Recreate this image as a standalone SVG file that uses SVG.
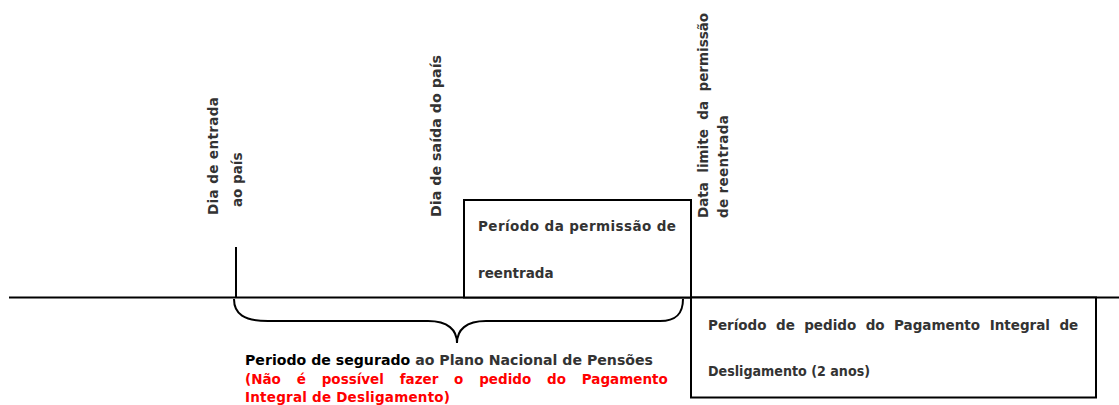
<svg xmlns="http://www.w3.org/2000/svg" width="1119" height="405" viewBox="0 0 1119 405">
<style>
  .t { font-family: "DejaVu Sans", "Liberation Sans", sans-serif; font-weight: bold; font-size: 13.5px; fill: #333333; }
  .k { fill: #000000; }
  .r { fill: #ff0000; }
  .ln { stroke: #000000; stroke-width: 2; fill: none; }
  .box { stroke: #000000; stroke-width: 2; fill: #ffffff; }
</style>
<rect width="1119" height="405" fill="#ffffff"/>
<g id="connectors">
  <line class="ln" x1="9" y1="297.5" x2="1119" y2="297.5"/>
  <line class="ln" x1="236" y1="247" x2="236" y2="297.5"/>
  <path class="ln" d="M234,299 C234,314 244,321 268,321 L428,321 C448,321 457,330 457,343 C457,330 466,321 486,321 L660,321 C676,321 683,314 683,299" stroke-width="1.8"/>
</g>
<g id="reentry-box">
  <rect class="box" x="464" y="200" width="227" height="97.5"/>
  <text class="t" x="478" y="231" textLength="198" lengthAdjust="spacing">Período da permissão de</text>
  <text class="t" x="478" y="278">reentrada</text>
</g>
<g id="payment-box">
  <rect class="box" x="691" y="297.5" width="405" height="100"/>
  <text class="t" y="330"><tspan x="708">Período</tspan> <tspan x="776">de</tspan> <tspan x="804.2">pedido</tspan> <tspan x="865.7">do</tspan> <tspan x="894">Pagamento</tspan> <tspan x="989.7">Integral</tspan> <tspan x="1059.4">de</tspan></text>
  <text class="t" x="708" y="376" textLength="162" lengthAdjust="spacingAndGlyphs">Desligamento (2 anos)</text>
</g>
<g id="entry-label">
  <text class="t" transform="translate(218,215) rotate(-90)" textLength="118" lengthAdjust="spacing">Dia de entrada</text>
  <text class="t" transform="translate(242,207) rotate(-90)">ao país</text>
</g>
<g id="exit-label">
  <text class="t" transform="translate(441,217) rotate(-90)" textLength="162" lengthAdjust="spacingAndGlyphs">Dia de saída do país</text>
</g>
<g id="limit-label">
  <text class="t" transform="translate(708,218) rotate(-90)"><tspan x="0">Data</tspan> <tspan x="45.3">limite</tspan> <tspan x="98.3">da</tspan> <tspan x="126.5">permissão</tspan></text>
  <text class="t" transform="translate(728,218) rotate(-90)" textLength="103" lengthAdjust="spacing">de reentrada</text>
</g>
<g id="insured-period">
  <text class="t" x="245" y="365" textLength="408" lengthAdjust="spacingAndGlyphs"><tspan class="k">Periodo de segurado</tspan> ao Plano Nacional de Pensões</text>
  <text class="t r" y="384"><tspan x="245">(Não</tspan> <tspan x="296.7">é</tspan> <tspan x="321.7">possível</tspan> <tspan x="399.7">fazer</tspan> <tspan x="454.1">o</tspan> <tspan x="479.2">pedido</tspan> <tspan x="547.1">do</tspan> <tspan x="581.8">Pagamento</tspan></text>
  <text class="t r" x="245" y="402" textLength="205" lengthAdjust="spacing">Integral de Desligamento)</text>
</g>
</svg>
